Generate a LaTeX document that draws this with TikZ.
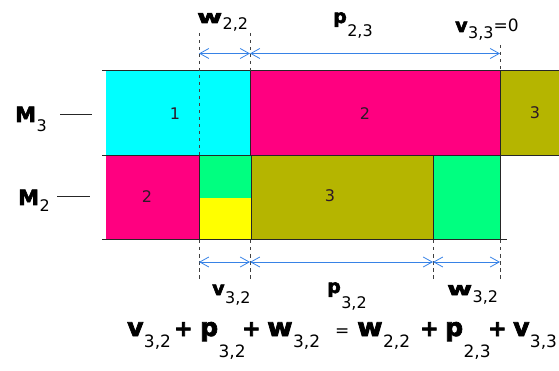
\documentclass[tikz,border=0pt]{standalone}
\usepackage{fontspec}
\usepackage{graphicx}
\setmainfont{DejaVu Sans}
\newfontfamily\hv[FakeBold=3]{DejaVu Sans Bold}
\usetikzlibrary{arrows.meta}
\definecolor{cy}{RGB}{0,255,255}
\definecolor{pk}{RGB}{255,0,128}
\definecolor{ol}{RGB}{181,181,0}
\definecolor{gr}{RGB}{0,255,128}
\definecolor{ye}{RGB}{255,255,0}
\definecolor{ar}{RGB}{55,130,230}
\definecolor{ink}{RGB}{45,25,40}
\newcommand\vlab[5]{{\fontsize{#3}{#3}\selectfont\hv #1}\kern0.5pt\raisebox{-#5}{\fontsize{#4}{#4}\selectfont #2}}
\newcommand\ww[1]{\scalebox{#1}[1]{w}}
\newcommand\bplus{{\fontsize{22}{22}\selectfont\hv +}}
\begin{document}
\begin{tikzpicture}[x=1pt,y=-1pt,
 num/.style={font=\fontsize{16}{16}\selectfont, text=ink, inner sep=0pt},
 edge/.style={line width=1pt, draw=black!85},
 guide/.style={line width=0.9pt, draw=black!75, dash pattern=on 3.5pt off 3.5pt},
 dim/.style={line width=0.8pt, draw=ar, {Straight Barb[length=9pt,width=10pt]}-{Straight Barb[length=9pt,width=10pt]}},
 lab/.style={anchor=base west, inner sep=0pt}]
\useasboundingbox (0,0) rectangle (559,371);
% cells
\fill[cy] (106,71) rectangle (250,155.5);
\fill[pk] (250,71) rectangle (500,155.5);
\fill[ol] (500,71) rectangle (559,155.5);
\fill[pk] (106,155.5) rectangle (199,240);
\fill[gr] (199,155.5) rectangle (251,198);
\fill[ye] (199,198) rectangle (251,240);
\fill[ol] (251,155.5) rectangle (433,240);
\fill[gr] (433,155.5) rectangle (500,240);
% borders
\draw[edge] (102,71) -- (559,71);
\draw[edge] (102,155.5) -- (559,155.5);
\draw[edge] (102,240) -- (507,240);
\draw[edge] (250,71) -- (250,155.5);
\draw[edge] (500,71) -- (500,155.5);
\draw[edge] (199,155.5) -- (199,240);
\draw[edge] (251,155.5) -- (251,240);
\draw[edge] (433,155.5) -- (433,240);
\draw[edge] (500,155.5) -- (500,240);
% numbers
\node[num] (c1) at (175,114) {1};
\node[num] (c2) at (365,114) {2};
\node[num] (c3) at (535,113) {3};
\node[num] (d2) at (147,197) {2};
\node[num] (d3) at (330,196) {3};
% guides
\draw[guide] (199,33) -- (199,155);
\draw[guide] (250,33) -- (250,71);
\draw[guide] (500,45) -- (500,71);
\draw[guide] (199,240) -- (199,280);
\draw[guide] (250,240) -- (250,280);
\draw[guide] (433,240) -- (433,280);
\draw[guide] (500,240) -- (500,280);
% dimension arrows
\coordinate (t1) at (199,53.5);
\coordinate (t2) at (250,53.5);
\coordinate (t3) at (500,53.5);
\coordinate (b1) at (199,262);
\coordinate (b2) at (250,262);
\coordinate (b3) at (433,262);
\coordinate (b4) at (500,262);
\draw[dim] (t1) -- (t2);
\draw[dim] (t2) -- (t3);
\draw[dim] (b1) -- (b2);
\draw[dim] (b2) -- (b3);
\draw[dim] (b3) -- (b4);
% labels
\node[lab] (lw22) at (197,23) {\vlab{\ww{1.5}}{2,2}{18}{16}{7pt}};
\node[lab] (lp23) at (333,23) {\vlab{p}{2,3}{19}{16}{14pt}};
\node[lab] (lv33) at (455,32) {\vlab{v}{3,3}{19}{16}{7pt}\fontsize{17}{17}\selectfont=0};
\node[lab] (lv32) at (212,295) {\vlab{v}{3,2}{19}{16}{8pt}};
\node[lab] (lp32) at (327,293) {\vlab{p}{3,2}{19}{16}{15pt}};
\node[lab] (lw32) at (447,295) {\vlab{\ww{1.5}}{3,2}{18}{16}{7pt}};
% machines
\node[lab] (m3) at (15,122) {\vlab{M}{3}{21}{16}{10pt}};
\node[lab] (m2) at (18,205) {\vlab{M}{2}{21}{16}{7pt}};
\coordinate (m3a) at (60,115);
\coordinate (m3b) at (92,115);
\coordinate (m2a) at (57,197);
\coordinate (m2b) at (90,197);
\draw[line width=1pt, draw=black!85] (m3a) -- (m3b);
\draw[line width=1pt, draw=black!85] (m2a) -- (m2b);
% equation
\node[lab] (eq) at (127,336) {%
\makebox[47pt][l]{\vlab{v}{3,2}{25}{17}{11pt}}%
\makebox[26pt][l]{\bplus}%
\makebox[42pt][l]{\vlab{p}{3,2}{25}{17}{21pt}}%
\makebox[25pt][l]{\bplus}%
\makebox[68pt][l]{\vlab{\ww{1.1}}{3,2}{25}{17}{11pt}}%
\makebox[22pt][l]{\fontsize{17}{17}\selectfont =}%
\makebox[63pt][l]{\vlab{\ww{1.1}}{2,2}{25}{17}{11pt}}%
\makebox[25pt][l]{\bplus}%
\makebox[43pt][l]{\vlab{p}{2,3}{25}{17}{21pt}}%
\makebox[25pt][l]{\bplus}%
\vlab{v}{3,3}{25}{17}{11pt}};
\end{tikzpicture}
\end{document}
